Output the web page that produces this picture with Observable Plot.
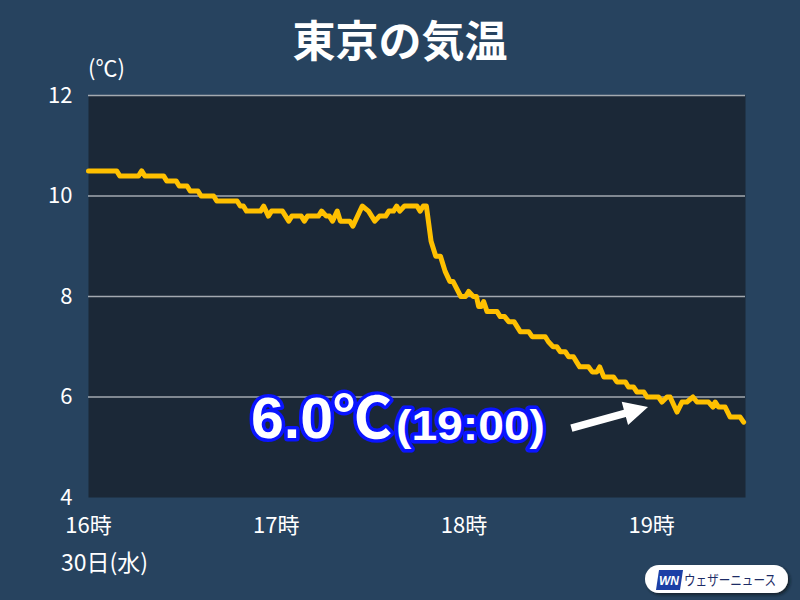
<!DOCTYPE html>
<html><head><meta charset="utf-8">
<script src="https://cdn.jsdelivr.net/npm/d3@7"></script>
<script src="https://cdn.jsdelivr.net/npm/@observablehq/plot@0.6"></script>
<style>
body{margin:0;background:#27435f;}
#wrap{position:relative;width:800px;height:600px;background:#27435f;overflow:hidden;font-family:"Noto Sans CJK JP",sans-serif;}
#chart{position:absolute;left:0;top:0;}
#overlay{position:absolute;left:0;top:0;}
</style></head><body>
<div id="wrap"><div id="chart"></div><svg id="overlay" width="800" height="600" xmlns="http://www.w3.org/2000/svg"></svg></div>
<script>
// minutes after 16:00
const minutes = [0,9,10,16,17,18,24,25,28,29,31.5,32.5,35,36,40,41,47.5,48.5,49.5,50.5,55,56,57.5,58.5,62,64,65,68,69,70,73.5,74.5,76,77,78,79.5,80.5,83.5,84.5,87.5,89.5,91.5,93,95,96,97.5,98.5,99.5,101,105,106,107,108,109.5,110.5,111,112.5,114,115.5,116.5,119,120.5,121.5,123,124,124.7,125.5,126.3,127.4,130.6,131.6,133,134.3,136,137,138,140.7,141.8,146,147,148.5,149.7,150.8,152.4,153.5,155,156,157,159.8,161,162.5,163.4,164.7,167.8,168.9,171.6,172.6,174.2,175.3,177.5,178.5,182.2,183.3,184.9,185.9,188.1,189.7,191.3,193.2,194.5,198.2,199.6,200.3,201.4,203.5,205.1,208.3,209.4];
const temps = [10.5,10.5,10.4,10.4,10.5,10.4,10.4,10.3,10.3,10.2,10.2,10.1,10.1,10.0,10.0,9.9,9.9,9.8,9.8,9.7,9.7,9.8,9.6,9.7,9.7,9.5,9.6,9.6,9.5,9.6,9.6,9.7,9.6,9.6,9.5,9.7,9.5,9.5,9.4,9.8,9.7,9.5,9.6,9.6,9.7,9.7,9.8,9.7,9.8,9.8,9.7,9.8,9.8,9.1,8.9,8.8,8.8,8.5,8.3,8.3,8.0,8.0,8.1,8.0,8.0,7.8,7.8,7.9,7.7,7.7,7.6,7.6,7.5,7.5,7.4,7.3,7.3,7.2,7.2,7.1,7.0,7.0,6.9,6.9,6.8,6.8,6.7,6.6,6.6,6.5,6.5,6.6,6.4,6.4,6.3,6.3,6.2,6.2,6.1,6.1,6.0,6.0,5.9,6.0,6.0,5.7,5.9,5.9,6.0,5.9,5.9,5.8,5.9,5.8,5.8,5.6,5.6,5.5];
const xTicks = [16,17,18,19];
const yTicks = [4,6,8,10,12];
const gridValues = [6,8,10,12];
const titleText = "東京の気温";
const unitLabel = "(℃)";
const dateLabel = "30日(水)";
const calloutValue = "6.0℃";
const calloutTime = "(19:00)";
const arrowFrom = {min:154.5, value:5.37};
const arrowTo = {min:179, value:5.79};
const brandText = "ウェザーニュース";

const data = minutes.map((m,i)=>({hour:16+m/60, temp:temps[i]}));
const FONT = '"Noto Sans CJK JP", sans-serif';

const plot = Plot.plot({
  width:800, height:600,
  marginTop:95, marginBottom:103, marginLeft:88, marginRight:55,
  style:{background:"transparent", color:"#ffffff", fontFamily:FONT},
  x:{domain:[16,19.5]},
  y:{domain:[4,12]},
  marks:[
    Plot.frame({fill:"#1b2837"}),
    Plot.gridY(gridValues,{stroke:"#a3a9b0", strokeOpacity:1, strokeWidth:1.5}),
    Plot.line(data,{x:"hour", y:"temp", stroke:"#ffc000", strokeWidth:5, strokeLinejoin:"round", strokeLinecap:"round"}),
    Plot.axisX({ticks:xTicks, tickFormat:d=>d+"時", tickSize:0, tickPadding:20, fontSize:22, fill:"#ffffff", label:null}),
    Plot.axisY({ticks:yTicks, tickSize:0, tickPadding:16, fontSize:22, fill:"#ffffff", label:null})
  ]
});
document.getElementById("chart").appendChild(plot);

const xs = plot.scale("x"), ys = plot.scale("y");
const ov = d3.select("#overlay");

ov.append("text").attr("x",400).attr("y",57).attr("text-anchor","middle")
  .attr("font-family",FONT).attr("font-weight","bold").attr("font-size",43).attr("fill","#fff").text(titleText);
ov.append("text").attr("x",88).attr("y",76)
  .attr("font-family",FONT).attr("font-size",22).attr("fill","#fff").text(unitLabel);
ov.append("text").attr("x",61).attr("y",571)
  .attr("font-family",FONT).attr("font-size",23).attr("fill","#fff").text(dateLabel);

// arrow
const x1 = xs.apply(16+arrowFrom.min/60), y1 = ys.apply(arrowFrom.value);
const x2 = xs.apply(16+arrowTo.min/60), y2 = ys.apply(arrowTo.value);
const dx = x2-x1, dy = y2-y1, L = Math.hypot(dx,dy), ux = dx/L, uy = dy/L, px = -uy, py = ux;
const hl = 24, hw = 12, sw = 3.8;
const bx = x2-ux*hl, by = y2-uy*hl;
const pts = [
  [x1+px*sw, y1+py*sw],[bx+px*sw, by+py*sw],[bx+px*hw, by+py*hw],[x2,y2],
  [bx-px*hw, by-py*hw],[bx-px*sw, by-py*sw],[x1-px*sw, y1-py*sw]
];
ov.append("polygon").attr("points",pts.map(p=>p.join(",")).join(" ")).attr("fill","#fff");

// callout text
const calloutStyle = sel => sel
  .attr("font-family",'"Liberation Sans", "Noto Sans CJK JP", sans-serif').attr("font-weight","bold")
  .attr("fill","#fff").attr("stroke","#0a14ff").attr("stroke-width",7).attr("stroke-linejoin","round")
  .attr("paint-order","stroke");
ov.append("text").attr("x",251).attr("y",438).attr("font-size",57)
  .attr("textLength",141).attr("lengthAdjust","spacingAndGlyphs").call(calloutStyle).text(calloutValue);
ov.append("text").attr("x",396).attr("y",440).attr("font-size",43)
  .attr("textLength",149).attr("lengthAdjust","spacingAndGlyphs").call(calloutStyle).text(calloutTime);

// brand logo
const defs = ov.append("defs");
const f = defs.append("filter").attr("id","sh").attr("x","-10%").attr("y","-30%").attr("width","130%").attr("height","180%");
f.append("feDropShadow").attr("dx",2).attr("dy",2).attr("stdDeviation",1.5).attr("flood-color","#0a1422").attr("flood-opacity",0.8);
ov.append("rect").attr("x",645).attr("y",565).attr("width",143).attr("height",28).attr("rx",14)
  .attr("fill","#fff").attr("filter","url(#sh)");
ov.append("polygon").attr("points","659,570 683,570 680,590 656,590").attr("fill","#1c3fa6");
ov.append("text").attr("x",669).attr("y",585).attr("text-anchor","middle")
  .attr("font-family",'"Liberation Sans", sans-serif').attr("font-weight","bold").attr("font-style","italic")
  .attr("font-size",12).attr("fill","#fff").attr("textLength",20).attr("lengthAdjust","spacingAndGlyphs").text("WN");
ov.append("text").attr("x",684).attr("y",585)
  .attr("font-family",FONT).attr("font-size",14).attr("fill","#1d2c66")
  .attr("textLength",92).attr("lengthAdjust","spacingAndGlyphs").text(brandText);
</script>
</body></html>
